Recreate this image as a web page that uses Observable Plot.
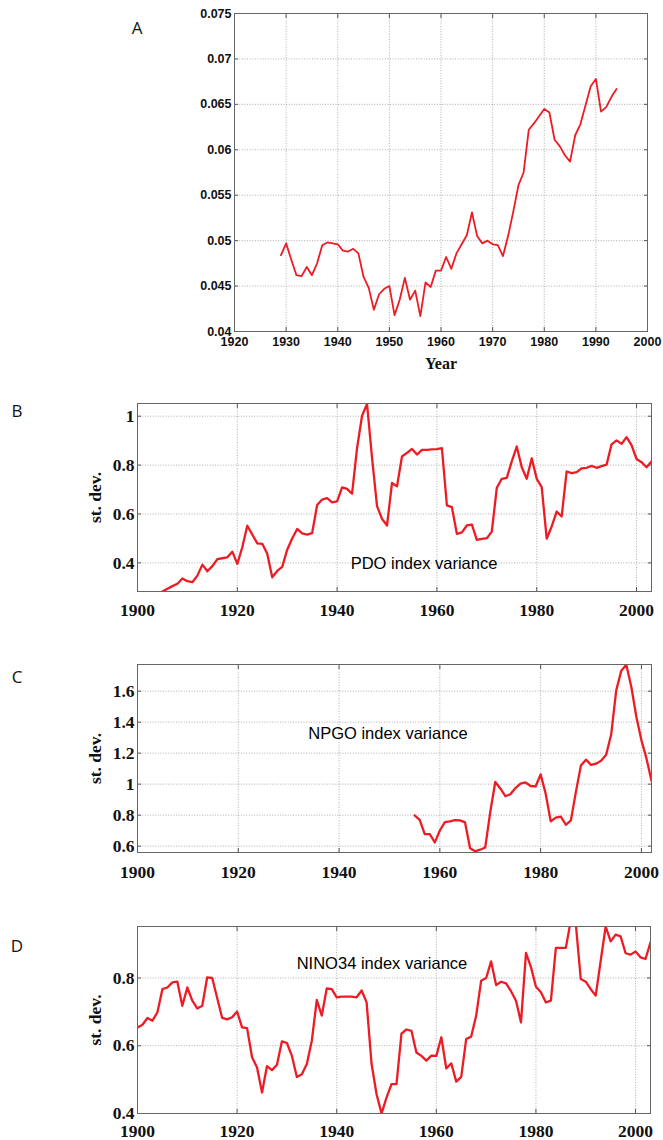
<!DOCTYPE html>
<html><head><meta charset="utf-8">
<script src="https://cdn.jsdelivr.net/npm/d3@7"></script>
<script src="https://cdn.jsdelivr.net/npm/@observablehq/plot@0.6"></script>
<style>
body{margin:0;background:#fff;}
#wrap{position:relative;width:663px;height:1140px;overflow:hidden;background:#fff;}
#wrap svg{position:absolute;left:0;}
.letter{position:absolute;font-family:"Open Sans",sans-serif;font-size:17px;color:#111;transform:translate(-50%,-50%);line-height:1;}
.note{position:absolute;font-family:"Liberation Sans",Arial,sans-serif;font-size:16.5px;color:#000;transform:translate(-50%,-50%);white-space:nowrap;line-height:1;}
</style></head><body><div id="wrap"></div>
<script>
// ---------- data ----------
const startA = 1929;
const valuesA = [0.0484,0.0497,0.0479,0.0462,0.0461,0.0471,0.0462,0.0475,0.0495,0.0498,
  0.0497,0.0496,0.0489,0.0488,0.0491,0.0486,0.0460,0.0448,0.0424,0.0441,
  0.0447,0.0450,0.0418,0.0435,0.0459,0.0435,0.0445,0.0417,0.0454,0.0449,
  0.0467,0.0467,0.0482,0.0469,0.0486,0.0496,0.0506,0.0531,0.0505,0.0497,
  0.0500,0.0496,0.0495,0.0483,0.0505,0.0532,0.0561,0.0575,0.0622,0.0629,
  0.0637,0.0645,0.0641,0.0611,0.0604,0.0594,0.0587,0.0616,0.0628,0.0649,
  0.0670,0.0678,0.0642,0.0647,0.0658,0.0667];

const startPDO = 1905;
const valuesPDO = [0.283,0.294,0.305,0.315,0.336,0.325,0.321,0.348,0.393,0.366,
  0.387,0.415,0.419,0.423,0.446,0.396,0.464,0.552,0.516,0.480,
  0.478,0.437,0.341,0.367,0.384,0.454,0.500,0.539,0.521,0.516,
  0.522,0.637,0.659,0.665,0.648,0.652,0.709,0.703,0.683,0.870,
  1.002,1.050,0.830,0.632,0.580,0.553,0.727,0.713,0.835,0.850,
  0.866,0.843,0.862,0.862,0.864,0.865,0.869,0.635,0.628,0.519,
  0.525,0.553,0.557,0.494,0.498,0.501,0.528,0.707,0.744,0.748,
  0.815,0.876,0.791,0.744,0.828,0.744,0.710,0.499,0.549,0.610,
  0.590,0.774,0.767,0.771,0.787,0.789,0.797,0.789,0.796,0.802,
  0.885,0.901,0.887,0.914,0.882,0.825,0.812,0.791,0.815];

const startNPGO = 1955;
const valuesNPGO = [0.798,0.770,0.678,0.677,0.624,0.701,0.755,0.760,0.768,0.766,
  0.753,0.586,0.567,0.577,0.591,0.820,1.014,0.972,0.922,0.935,
  0.975,1.003,1.011,0.988,0.985,1.063,0.938,0.760,0.784,0.790,
  0.738,0.766,0.950,1.121,1.158,1.124,1.132,1.151,1.190,1.320,
  1.605,1.732,1.770,1.627,1.433,1.283,1.166,1.022];

const startNINO = 1900;
const valuesNINO = [0.654,0.662,0.682,0.674,0.699,0.767,0.772,0.787,0.789,0.718,
  0.772,0.733,0.710,0.718,0.802,0.800,0.741,0.682,0.678,0.684,
  0.701,0.654,0.652,0.566,0.536,0.462,0.540,0.528,0.544,0.613,
  0.608,0.570,0.508,0.516,0.546,0.615,0.735,0.689,0.769,0.767,
  0.743,0.745,0.745,0.745,0.743,0.763,0.728,0.546,0.457,0.400,
  0.447,0.487,0.487,0.636,0.648,0.644,0.580,0.570,0.556,0.571,
  0.570,0.625,0.533,0.548,0.494,0.508,0.620,0.627,0.689,0.792,
  0.800,0.849,0.779,0.789,0.784,0.761,0.733,0.669,0.874,0.832,
  0.774,0.758,0.728,0.733,0.889,0.889,0.889,0.970,0.960,0.797,
  0.789,0.767,0.748,0.851,0.952,0.908,0.928,0.923,0.873,0.869,
  0.878,0.861,0.856,0.905];

const ticksXA = [1920,1930,1940,1950,1960,1970,1980,1990,2000];
const ticksYA = [0.04,0.045,0.05,0.055,0.06,0.065,0.07,0.075];
const ticksXB = [1900,1920,1940,1960,1980,2000];
const ticksYPDO = [0.4,0.6,0.8,1];
const ticksYNPGO = [0.6,0.8,1,1.2,1.4,1.6];
const ticksYNINO = [0.4,0.6,0.8];

const toRows = (start, vals) => vals.map((v, i) => ({year: start + i, value: v}));

// ---------- drawing ----------
const RED = "#ed1c24";
const wrap = document.getElementById("wrap");

function inwardTicks(xt, yt) {
  const o = {tickSize: -4, fill: "none", stroke: "#555", label: null};
  return [
    Plot.axisX(xt, {...o, anchor: "bottom"}),
    Plot.axisX(xt, {...o, anchor: "top"}),
    Plot.axisY(yt, {...o, anchor: "left"}),
    Plot.axisY(yt, {...o, anchor: "right"})
  ];
}
function grids(xt, yt) {
  const g = {stroke: "#9a9a9a", strokeOpacity: 1, strokeDasharray: "1,1.6", strokeWidth: 0.8};
  return [Plot.gridX(xt, g), Plot.gridY(yt, g)];
}

// Panel A
{
  const svg = Plot.plot({
    width: 663, height: 380,
    marginLeft: 234, marginRight: 16, marginTop: 13, marginBottom: 49,
    style: {fontFamily: "'Liberation Sans', Arial, sans-serif", fontSize: "12.5px", fontWeight: "bold", background: "transparent", color: "#111"},
    x: {domain: [1920, 2000]},
    y: {domain: [0.04, 0.075]},
    marks: [
      ...grids(ticksXA, ticksYA),
      ...inwardTicks(ticksXA, ticksYA),
      Plot.axisX(ticksXA, {tickSize: 0, tickPadding: 6, tickFormat: d => String(d), label: null}),
      Plot.axisY(ticksYA, {tickSize: 0, tickPadding: 3, tickFormat: d => String(d), label: null}),
      Plot.lineY(toRows(startA, valuesA), {x: "year", y: "value", stroke: RED, strokeWidth: 1.8, clip: true}),
      Plot.text(["Year"], {frameAnchor: "bottom", dy: 37, lineAnchor: "bottom", fontFamily: "'Liberation Serif', 'Times New Roman', serif", fontSize: 16, fontWeight: "bold"}),
      Plot.frame({stroke: "#666"})
    ]
  });
  svg.style.top = "0px";
  wrap.appendChild(svg);
}

function lowerPanel({top, height, mt, mb, mr, xmax, ydom, yt, rows, padX}) {
  const svg = Plot.plot({
    width: 663, height,
    marginLeft: 137, marginRight: mr, marginTop: mt, marginBottom: mb,
    style: {fontFamily: "'Liberation Serif', 'Times New Roman', serif", fontSize: "17.5px", fontWeight: "bold", background: "transparent", color: "#111"},
    x: {domain: [1900, xmax]},
    y: {domain: ydom},
    marks: [
      ...grids(ticksXB, yt),
      ...inwardTicks(ticksXB, yt),
      Plot.axisX(ticksXB, {tickSize: 0, tickPadding: padX, tickFormat: d => String(d), label: null}),
      Plot.axisY(yt, {tickSize: 0, tickPadding: 3, tickFormat: d => String(d), label: "st. dev.", labelAnchor: "center", labelArrow: "none", labelOffset: 49}),
      Plot.lineY(rows, {x: "year", y: "value", stroke: RED, strokeWidth: 2.3, clip: true}),
      Plot.frame({stroke: "#666"})
    ]
  });
  svg.style.top = top + "px";
  wrap.appendChild(svg);
}

lowerPanel({top: 390, height: 240, mt: 13, mb: 39, mr: 12, xmax: 2003, ydom: [0.283, 1.052], yt: ticksYPDO, rows: toRows(startPDO, valuesPDO), padX: 12});
lowerPanel({top: 640, height: 255, mt: 24, mb: 43, mr: 12, xmax: 2002, ydom: [0.559, 1.772], yt: ticksYNPGO, rows: toRows(startNPGO, valuesNPGO), padX: 13});
lowerPanel({top: 880, height: 260, mt: 46, mb: 27, mr: 13, xmax: 2003, ydom: [0.4, 0.952], yt: ticksYNINO, rows: toRows(startNINO, valuesNINO), padX: 11});

// ---------- text overlays ----------
const letters = [["A", 137, 27], ["B", 17, 410], ["C", 17, 676], ["D", 17, 945]];
for (const [t, x, y] of letters) {
  const d = document.createElement("div");
  d.className = "letter"; d.textContent = t;
  d.style.left = x + "px"; d.style.top = y + "px";
  wrap.appendChild(d);
}
const notes = [["PDO index variance", 424, 563], ["NPGO index variance", 388, 733], ["NINO34 index variance", 382, 963]];
for (const [t, x, y] of notes) {
  const d = document.createElement("div");
  d.className = "note"; d.textContent = t;
  d.style.left = x + "px"; d.style.top = y + "px";
  wrap.appendChild(d);
}
</script></body></html>
